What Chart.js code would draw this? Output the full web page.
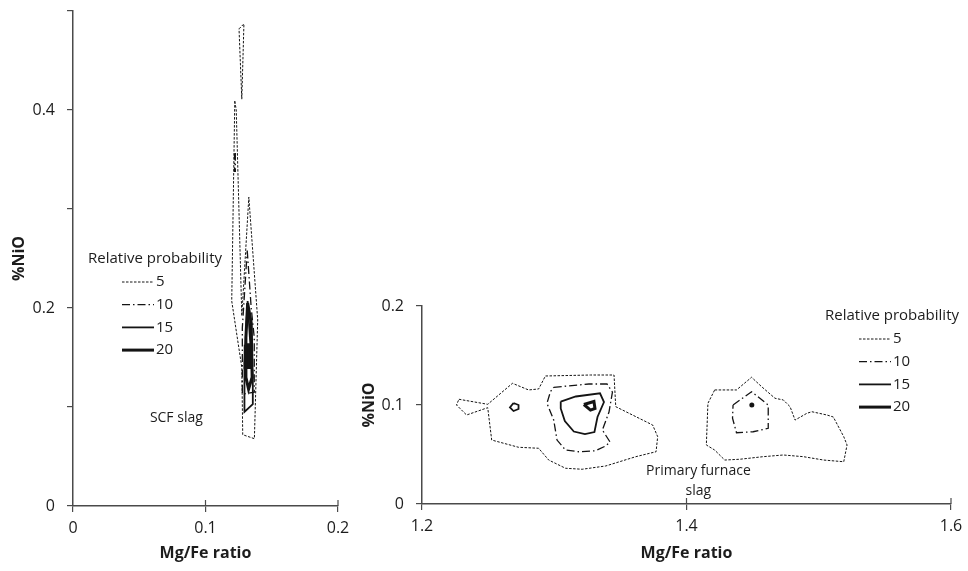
<!DOCTYPE html>
<html>
<head>
<meta charset="utf-8">
<script src="https://cdn.jsdelivr.net/npm/chart.js@4.4.1/dist/chart.umd.min.js"></script>
<style>
html, body { margin: 0; padding: 0; background: #fff; }
#wrap { position: relative; width: 968px; height: 571px; }
#leftBox { position: absolute; left: 0; top: 0; width: 350px; height: 571px; }
#rightBox { position: absolute; left: 350px; top: 0; width: 618px; height: 571px; }
</style>
</head>
<body>
<div id="wrap">
    <div id="leftBox"><canvas id="scfChart"></canvas></div>
    <div id="rightBox"><canvas id="primaryChart"></canvas></div>
</div>
<script>
// contour levels (relative probability)
var levels = ['5', '10', '15', '20'];
var legendTitle = 'Relative probability';

// SCF slag contours, points are [Mg/Fe ratio, %NiO]
var scf5Top = [[0.1253, 0.482], [0.1290, 0.487], [0.1274, 0.411], [0.1253, 0.482]];
var scf5Main = [[0.1221, 0.409], [0.1198, 0.207], [0.1274, 0.140], [0.1281, 0.072], [0.1369, 0.068],
    [0.1394, 0.188], [0.1327, 0.312], [0.1274, 0.192], [0.1232, 0.400], [0.1221, 0.409]];
var scf10Small = [[0.1219, 0.356], [0.1225, 0.356], [0.1225, 0.338], [0.1219, 0.338], [0.1219, 0.356]];
var scf10 = [[0.1315, 0.258], [0.1345, 0.200], [0.1368, 0.170], [0.1368, 0.115], [0.1278, 0.113],
    [0.1278, 0.180], [0.1315, 0.258]];
var scf15 = [[0.1318, 0.207], [0.1335, 0.170], [0.1357, 0.130], [0.1357, 0.103], [0.1294, 0.095],
    [0.1294, 0.145], [0.1318, 0.207]];
var scf20 = [[0.1318, 0.205], [0.1345, 0.185], [0.1352, 0.130], [0.1325, 0.118], [0.1305, 0.130],
    [0.1305, 0.170], [0.1318, 0.205]];
var scf20Core = [[0.1300, 0.163], [0.1345, 0.163], [0.1345, 0.140], [0.1300, 0.140], [0.1300, 0.163]];

// primary furnace slag contours
var pf5Left = [[1.2279, 0.1058], [1.2497, 0.1007], [1.2684, 0.1219], [1.2806, 0.1152], [1.2882, 0.1162],
    [1.2933, 0.1293], [1.3275, 0.1303], [1.3452, 0.1303], [1.3465, 0.0983], [1.3744, 0.0798],
    [1.3782, 0.0680], [1.3770, 0.0528], [1.3617, 0.0478], [1.3389, 0.0384], [1.3211, 0.0351],
    [1.3085, 0.0361], [1.2958, 0.0444], [1.2882, 0.0563], [1.2730, 0.0573], [1.2527, 0.0646],
    [1.2497, 0.0973], [1.2337, 0.0899], [1.2261, 0.1000], [1.2279, 0.1058]];
var pf5Right = [[1.4213, 0.1152], [1.4378, 0.1152], [1.4492, 0.1280], [1.4568, 0.1185], [1.4669, 0.1068],
    [1.4732, 0.1051], [1.4783, 0.0983], [1.4821, 0.0848], [1.4910, 0.0916], [1.4948, 0.0932],
    [1.5062, 0.0899], [1.5110, 0.0879], [1.5189, 0.0680], [1.5214, 0.0596], [1.5189, 0.0427],
    [1.5037, 0.0444], [1.4884, 0.0478], [1.4732, 0.0495], [1.4580, 0.0478], [1.4403, 0.0452],
    [1.4289, 0.0444], [1.4213, 0.0545], [1.4150, 0.0596], [1.4162, 0.1017], [1.4213, 0.1152]];
var pf10Left = [[1.2996, 0.1179], [1.3262, 0.1212], [1.3399, 0.1212], [1.3440, 0.1131], [1.3414, 0.0929],
    [1.3364, 0.0747], [1.3422, 0.0626], [1.3389, 0.0586], [1.3313, 0.0538], [1.3186, 0.0528],
    [1.3085, 0.0545], [1.3021, 0.0646], [1.2996, 0.0848], [1.2945, 0.1017], [1.2971, 0.1134],
    [1.2996, 0.1179]];
var pf10Right = [[1.4352, 0.1000], [1.4492, 0.1134], [1.4618, 0.1000], [1.4618, 0.0765], [1.4504, 0.0730],
    [1.4378, 0.0720], [1.4348, 0.0866], [1.4352, 0.1000]];
var pf15Small = [[1.2692, 0.1020], [1.2730, 0.1000], [1.2730, 0.0960], [1.2692, 0.0939], [1.2665, 0.0975],
    [1.2692, 0.1020]];
var pf15Left = [[1.3049, 0.1035], [1.3163, 0.1086], [1.3346, 0.1118], [1.3376, 0.1030], [1.3327, 0.0879],
    [1.3304, 0.0727], [1.3232, 0.0707], [1.3148, 0.0732], [1.3080, 0.0838], [1.3049, 0.0965],
    [1.3049, 0.1035]];
var pf20Left = [[1.3224, 0.1005], [1.3300, 0.1035], [1.3308, 0.0965], [1.3274, 0.0949], [1.3224, 0.1005]];
var pf20Dot = [[1.4494, 0.1000]];

// axis ticks and labels
var scfXTicks = [0, 0.1, 0.2];
var scfXLabels = ['0', '0.1', '0.2'];
var scfYTicks = [0, 0.1, 0.2, 0.3, 0.4, 0.5];
var scfYLabels = ['0', '', '0.2', '', '0.4', ''];
var pfXTicks = [1.2, 1.4, 1.6];
var pfXLabels = ['1.2', '1.4', '1.6'];
var pfYTicks = [0, 0.1, 0.2];
var pfYLabels = ['0', '0.1', '0.2'];

var ink = '#141414';
var axisColor = '#4a4a4a';
var textColor = '#1c1c1c';
var fontFamily = '"Open Sans", sans-serif';

var levelStyle = {
    '5': { dash: [2.5, 1.5], width: 1 },
    '10': { dash: [8, 3, 1.5, 3], width: 1.3 },
    '15': { dash: [], width: 1.8 },
    '20': { dash: [], width: 3 }
};

function contour(points, level, filled) {
    var st = levelStyle[level];
    return {
        data: points.map(function (p) { return { x: p[0], y: p[1] }; }),
        showLine: true,
        borderColor: ink,
        backgroundColor: ink,
        borderWidth: st.width,
        borderDash: st.dash,
        pointRadius: 0,
        tension: 0,
        fill: filled ? 'shape' : false
    };
}

function dots(points) {
    return {
        data: points.map(function (p) { return { x: p[0], y: p[1] }; }),
        showLine: false,
        pointRadius: 2.5,
        pointBackgroundColor: ink,
        pointBorderWidth: 0
    };
}

// legend block drawn on the canvas
function legendPlugin(left, top) {
    return {
        id: 'relLegend',
        afterDraw: function (chart) {
            var ctx = chart.ctx;
            ctx.save();
            ctx.font = '15px ' + fontFamily;
            ctx.fillStyle = textColor;
            ctx.textBaseline = 'middle';
            ctx.fillText(legendTitle, left, top);
            levels.forEach(function (lv, i) {
                var y = top + 23 + i * 22.7;
                var st = levelStyle[lv];
                ctx.beginPath();
                ctx.setLineDash(st.dash);
                ctx.lineWidth = st.width;
                ctx.strokeStyle = ink;
                ctx.moveTo(left + 34, y);
                ctx.lineTo(left + 66, y);
                ctx.stroke();
                ctx.setLineDash([]);
                ctx.fillText(lv, left + 68, y);
            });
            ctx.restore();
        }
    };
}

// text notes placed at data positions
function notesPlugin(notes) {
    return {
        id: 'notes',
        afterDraw: function (chart) {
            var ctx = chart.ctx;
            ctx.save();
            ctx.font = '14px ' + fontFamily;
            ctx.fillStyle = textColor;
            ctx.textAlign = 'center';
            ctx.textBaseline = 'middle';
            notes.forEach(function (n) {
                ctx.fillText(n[0], chart.scales.x.getPixelForValue(n[1]), chart.scales.y.getPixelForValue(n[2]));
            });
            ctx.restore();
        }
    };
}

// x ticks cross the axis line
var innerTicks = {
    id: 'innerTicks',
    afterDraw: function (chart) {
        var ctx = chart.ctx, xs = chart.scales.x, bottom = chart.chartArea.bottom;
        ctx.save();
        ctx.strokeStyle = axisColor;
        ctx.lineWidth = 1.2;
        xs.ticks.forEach(function (t, i) {
            if (i === 0) return;
            var px = xs.getPixelForValue(t.value);
            ctx.beginPath();
            ctx.moveTo(px, bottom);
            ctx.lineTo(px, bottom - 6);
            ctx.stroke();
        });
        ctx.restore();
    }
};

function axes(xMin, xMax, xTicks, xLabels, yMin, yMax, yTicks, yLabels, yWidth, xHeight) {
    var tickFont = { family: fontFamily, size: 16 };
    var titleFont = { family: fontFamily, size: 16, weight: 'bold' };
    return {
        x: {
            type: 'linear', min: xMin, max: xMax,
            afterBuildTicks: function (s) { s.ticks = xTicks.map(function (v) { return { value: v }; }); },
            afterFit: function (s) { s.height = xHeight; s.paddingLeft = 0; s.paddingRight = 0; },
            ticks: { callback: function (v, i) { return xLabels[i]; }, color: textColor, font: tickFont, padding: 7, maxRotation: 0 },
            grid: { drawOnChartArea: false, color: axisColor, tickLength: 6, lineWidth: 1.2 },
            border: { color: axisColor, width: 1.5 },
            title: { display: true, text: 'Mg/Fe ratio', color: textColor, font: titleFont, padding: { top: 4, bottom: 0 } }
        },
        y: {
            type: 'linear', min: yMin, max: yMax,
            afterBuildTicks: function (s) { s.ticks = yTicks.map(function (v) { return { value: v }; }); },
            afterFit: function (s) { s.width = yWidth; s.paddingTop = 0; s.paddingBottom = 0; },
            ticks: { callback: function (v, i) { return yLabels[i]; }, color: textColor, font: tickFont, padding: 12 },
            grid: { drawOnChartArea: false, color: axisColor, tickLength: 6, lineWidth: 1.2 },
            border: { color: axisColor, width: 1.5 },
            title: { display: true, text: '%NiO', color: textColor, font: titleFont, padding: { top: 0, bottom: 4 } }
        }
    };
}

var baseOptions = function (padding, scales) {
    return {
        responsive: true,
        maintainAspectRatio: false,
        animation: false,
        layout: { padding: padding },
        plugins: { legend: { display: false }, tooltip: { enabled: false } },
        scales: scales
    };
};

var scf = document.getElementById('scfChart').getContext('2d');
var scfChart = new Chart(scf, {
    type: 'scatter',
    data: {
        datasets: [
            contour(scf5Top, '5'),
            contour(scf5Main, '5'),
            contour(scf10Small, '10'),
            contour(scf10, '10'),
            contour(scf15, '15'),
            contour(scf20, '20'),
            contour(scf20Core, '20', true)
        ]
    },
    options: baseOptions({ left: 10, right: 12, top: 11, bottom: 8 },
        axes(0, 0.2, scfXTicks, scfXLabels, 0, 0.5, scfYTicks, scfYLabels, 63, 57)),
    plugins: [legendPlugin(88, 259), notesPlugin([['SCF slag', 0.078, 0.089]]), innerTicks]
});

var pf = document.getElementById('primaryChart').getContext('2d');
var pfChart = new Chart(pf, {
    type: 'scatter',
    data: {
        datasets: [
            contour(pf5Left, '5'),
            contour(pf5Right, '5'),
            contour(pf10Left, '10'),
            contour(pf10Right, '10'),
            contour(pf15Small, '15'),
            contour(pf15Left, '15'),
            contour(pf20Left, '20'),
            dots(pf20Dot)
        ]
    },
    options: baseOptions({ left: 10, right: 17, top: 306, bottom: 8 },
        axes(1.2, 1.6, pfXTicks, pfXLabels, 0, 0.2, pfYTicks, pfYLabels, 62, 59)),
    plugins: [legendPlugin(475, 316), notesPlugin([['Primary furnace', 1.409, 0.033], ['slag', 1.409, 0.013]]), innerTicks]
});
</script>
</body>
</html>
